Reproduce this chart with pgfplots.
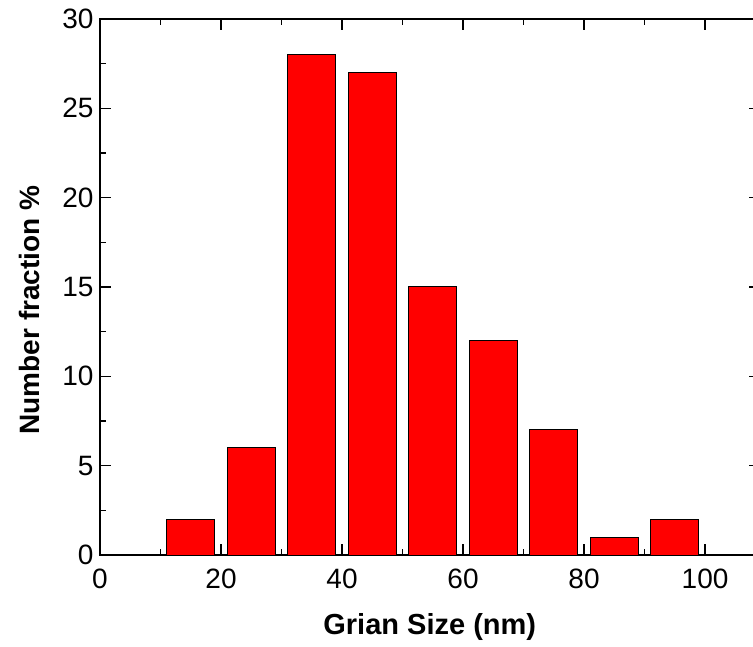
\documentclass[border=0pt]{standalone}
\usepackage{pgfplots}
\pgfplotsset{compat=1.18}
\usepackage{fontspec}
\setmainfont{Liberation Sans}
\usetikzlibrary{calc}
\begin{document}
\begin{tikzpicture}
\begin{axis}[
  name=ax,
  scale only axis,
  width=659.5pt, height=536pt,
  xmin=0, xmax=109, ymin=0, ymax=30,
  axis line style={line width=1.5pt},
  xtick={0,20,40,60,80,100},
  minor xtick={10,30,50,70,90},
  ytick={0,5,10,15,20,25,30},
  minor ytick={2.5,7.5,12.5,17.5,22.5,27.5},
  tick align=inside,
  major tick length=11pt,
  minor tick length=6pt,
  every tick/.style={line width=1.5pt, black},
  tick style={line width=1.5pt, black},
  /pgf/number format/assume math mode=true,
  tick label style={font=\fontsize{28}{33}\selectfont},
  xticklabel style={yshift=-10pt},
  yticklabel style={xshift=-3pt},
  label style={font=\bfseries\fontsize{29}{34}\selectfont},
  xlabel={Grian Size (nm)},
  ylabel={Number fraction \%},
  xlabel style={yshift=-18pt},
  ylabel style={yshift=16pt, xshift=-23pt, font=\bfseries\fontsize{28}{33}\selectfont},
]
\addplot[ybar, bar width=8, fill=red, draw=black, line width=1pt] coordinates {
 (15,2) (25,6) (35,28) (45,27) (55,15) (65,12) (75,7) (85,1) (95,2)
};
\end{axis}
\pgfresetboundingbox
\path ($(ax.south west)+(-100pt,-91pt)$) rectangle ($(ax.south west)+(653pt,555pt)$);
\end{tikzpicture}
\end{document}
